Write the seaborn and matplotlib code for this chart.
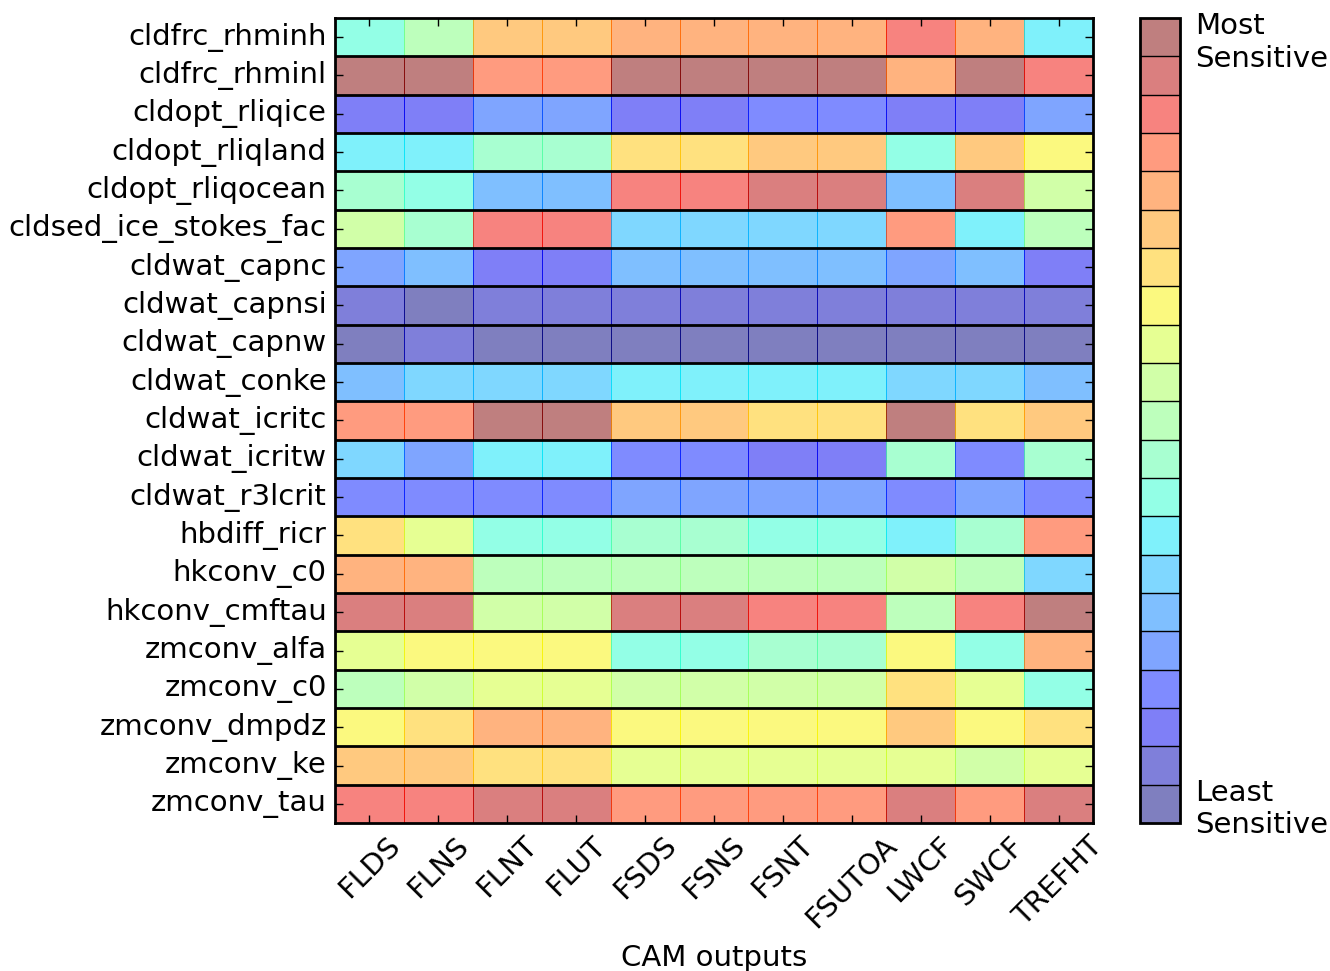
import numpy as np
import pandas as pd
import seaborn as sns
import matplotlib.pyplot as plt
from matplotlib.colors import ListedColormap

#%% Data - sensitivity rank (0 = least sensitive, 20 = most sensitive)
params = ['cldfrc_rhminh', 'cldfrc_rhminl', 'cldopt_rliqice', 'cldopt_rliqland',
          'cldopt_rliqocean', 'cldsed_ice_stokes_fac', 'cldwat_capnc', 'cldwat_capnsi',
          'cldwat_capnw', 'cldwat_conke', 'cldwat_icritc', 'cldwat_icritw',
          'cldwat_r3lcrit', 'hbdiff_ricr', 'hkconv_c0', 'hkconv_cmftau',
          'zmconv_alfa', 'zmconv_c0', 'zmconv_dmpdz', 'zmconv_ke', 'zmconv_tau']
outputs = ['FLDS', 'FLNS', 'FLNT', 'FLUT', 'FSDS', 'FSNS', 'FSNT', 'FSUTOA',
           'LWCF', 'SWCF', 'TREFHT']

FLDS = [8, 20, 2, 7, 9, 11, 4, 1, 0, 5, 17, 6, 3, 14, 16, 19, 12, 10, 13, 15, 18]
FLNS = [10, 20, 2, 7, 8, 9, 5, 0, 1, 6, 17, 4, 3, 12, 16, 19, 13, 11, 14, 15, 18]
FLNT = [15, 17, 4, 9, 5, 18, 2, 1, 0, 6, 20, 7, 3, 8, 10, 11, 13, 12, 16, 14, 19]
FLUT = [15, 17, 4, 9, 5, 18, 2, 1, 0, 6, 20, 7, 3, 8, 10, 11, 13, 12, 16, 14, 19]
FSDS = [16, 20, 2, 14, 18, 6, 5, 1, 0, 7, 15, 3, 4, 9, 10, 19, 8, 11, 13, 12, 17]
FSNS = [16, 20, 2, 14, 18, 6, 5, 1, 0, 7, 15, 3, 4, 9, 10, 19, 8, 11, 13, 12, 17]
FSNT = [16, 20, 3, 15, 19, 6, 5, 1, 0, 7, 14, 2, 4, 8, 10, 18, 9, 11, 13, 12, 17]
FSUTOA = [16, 20, 3, 15, 19, 6, 5, 1, 0, 7, 14, 2, 4, 8, 10, 18, 9, 11, 13, 12, 17]
LWCF = [18, 16, 2, 8, 5, 17, 4, 1, 0, 6, 20, 9, 3, 7, 11, 10, 13, 14, 15, 12, 19]
SWCF = [16, 20, 2, 15, 19, 7, 5, 1, 0, 6, 14, 3, 4, 9, 10, 18, 8, 12, 13, 11, 17]
TREFHT = [7, 18, 4, 13, 11, 10, 2, 1, 0, 5, 15, 9, 3, 17, 6, 20, 16, 8, 14, 12, 19]

df = pd.DataFrame({'FLDS': FLDS, 'FLNS': FLNS, 'FLNT': FLNT, 'FLUT': FLUT,
                   'FSDS': FSDS, 'FSNS': FSNS, 'FSNT': FSNT, 'FSUTOA': FSUTOA,
                   'LWCF': LWCF, 'SWCF': SWCF, 'TREFHT': TREFHT}, index=params)[outputs]

#%% Plot
fs = 21
n = 21
cmap = ListedColormap(plt.cm.jet(np.linspace(0, 1, n)))

fig = plt.figure(figsize=(13.3, 9.71), dpi=100)
ax = fig.add_axes([0.2519, 0.1524, 0.5699, 0.8291])
cax = fig.add_axes([0.8571, 0.1524, 0.0301, 0.8291])

sns.heatmap(df, ax=ax, cbar_ax=cax, cmap=cmap, vmin=-0.5, vmax=n - 0.5,
            alpha=0.5, linewidths=0.4, linecolor='face',
            cbar_kws={'drawedges': True, 'ticks': [0, n - 1]})

# black separators between rows
for y in range(1, n):
    ax.axhline(y, color='k', lw=2)

for s in ax.spines.values():
    s.set_visible(True)
    s.set_linewidth(2)
    s.set_color('k')

ax.tick_params(direction='in', length=6, width=1, top=True, right=True,
               labeltop=False, labelright=False, labelsize=fs, pad=6)
ax.set_xticklabels(outputs, rotation=45, ha='center', fontsize=fs)
ax.set_yticklabels(params, rotation=0, fontsize=fs)
ax.set_xlabel('CAM outputs', fontsize=fs, labelpad=8)
ax.set_ylabel('')

cbar = ax.collections[0].colorbar
cbar.set_ticklabels(['Least\nSensitive', 'Most\nSensitive'])
cbar.ax.tick_params(length=0, labelsize=fs, pad=11)
cbar.outline.set_linewidth(2)
cbar.outline.set_edgecolor('k')
cbar.dividers.set_color('k')
cbar.dividers.set_linewidth(1)

plt.savefig('out.png', dpi=100)
